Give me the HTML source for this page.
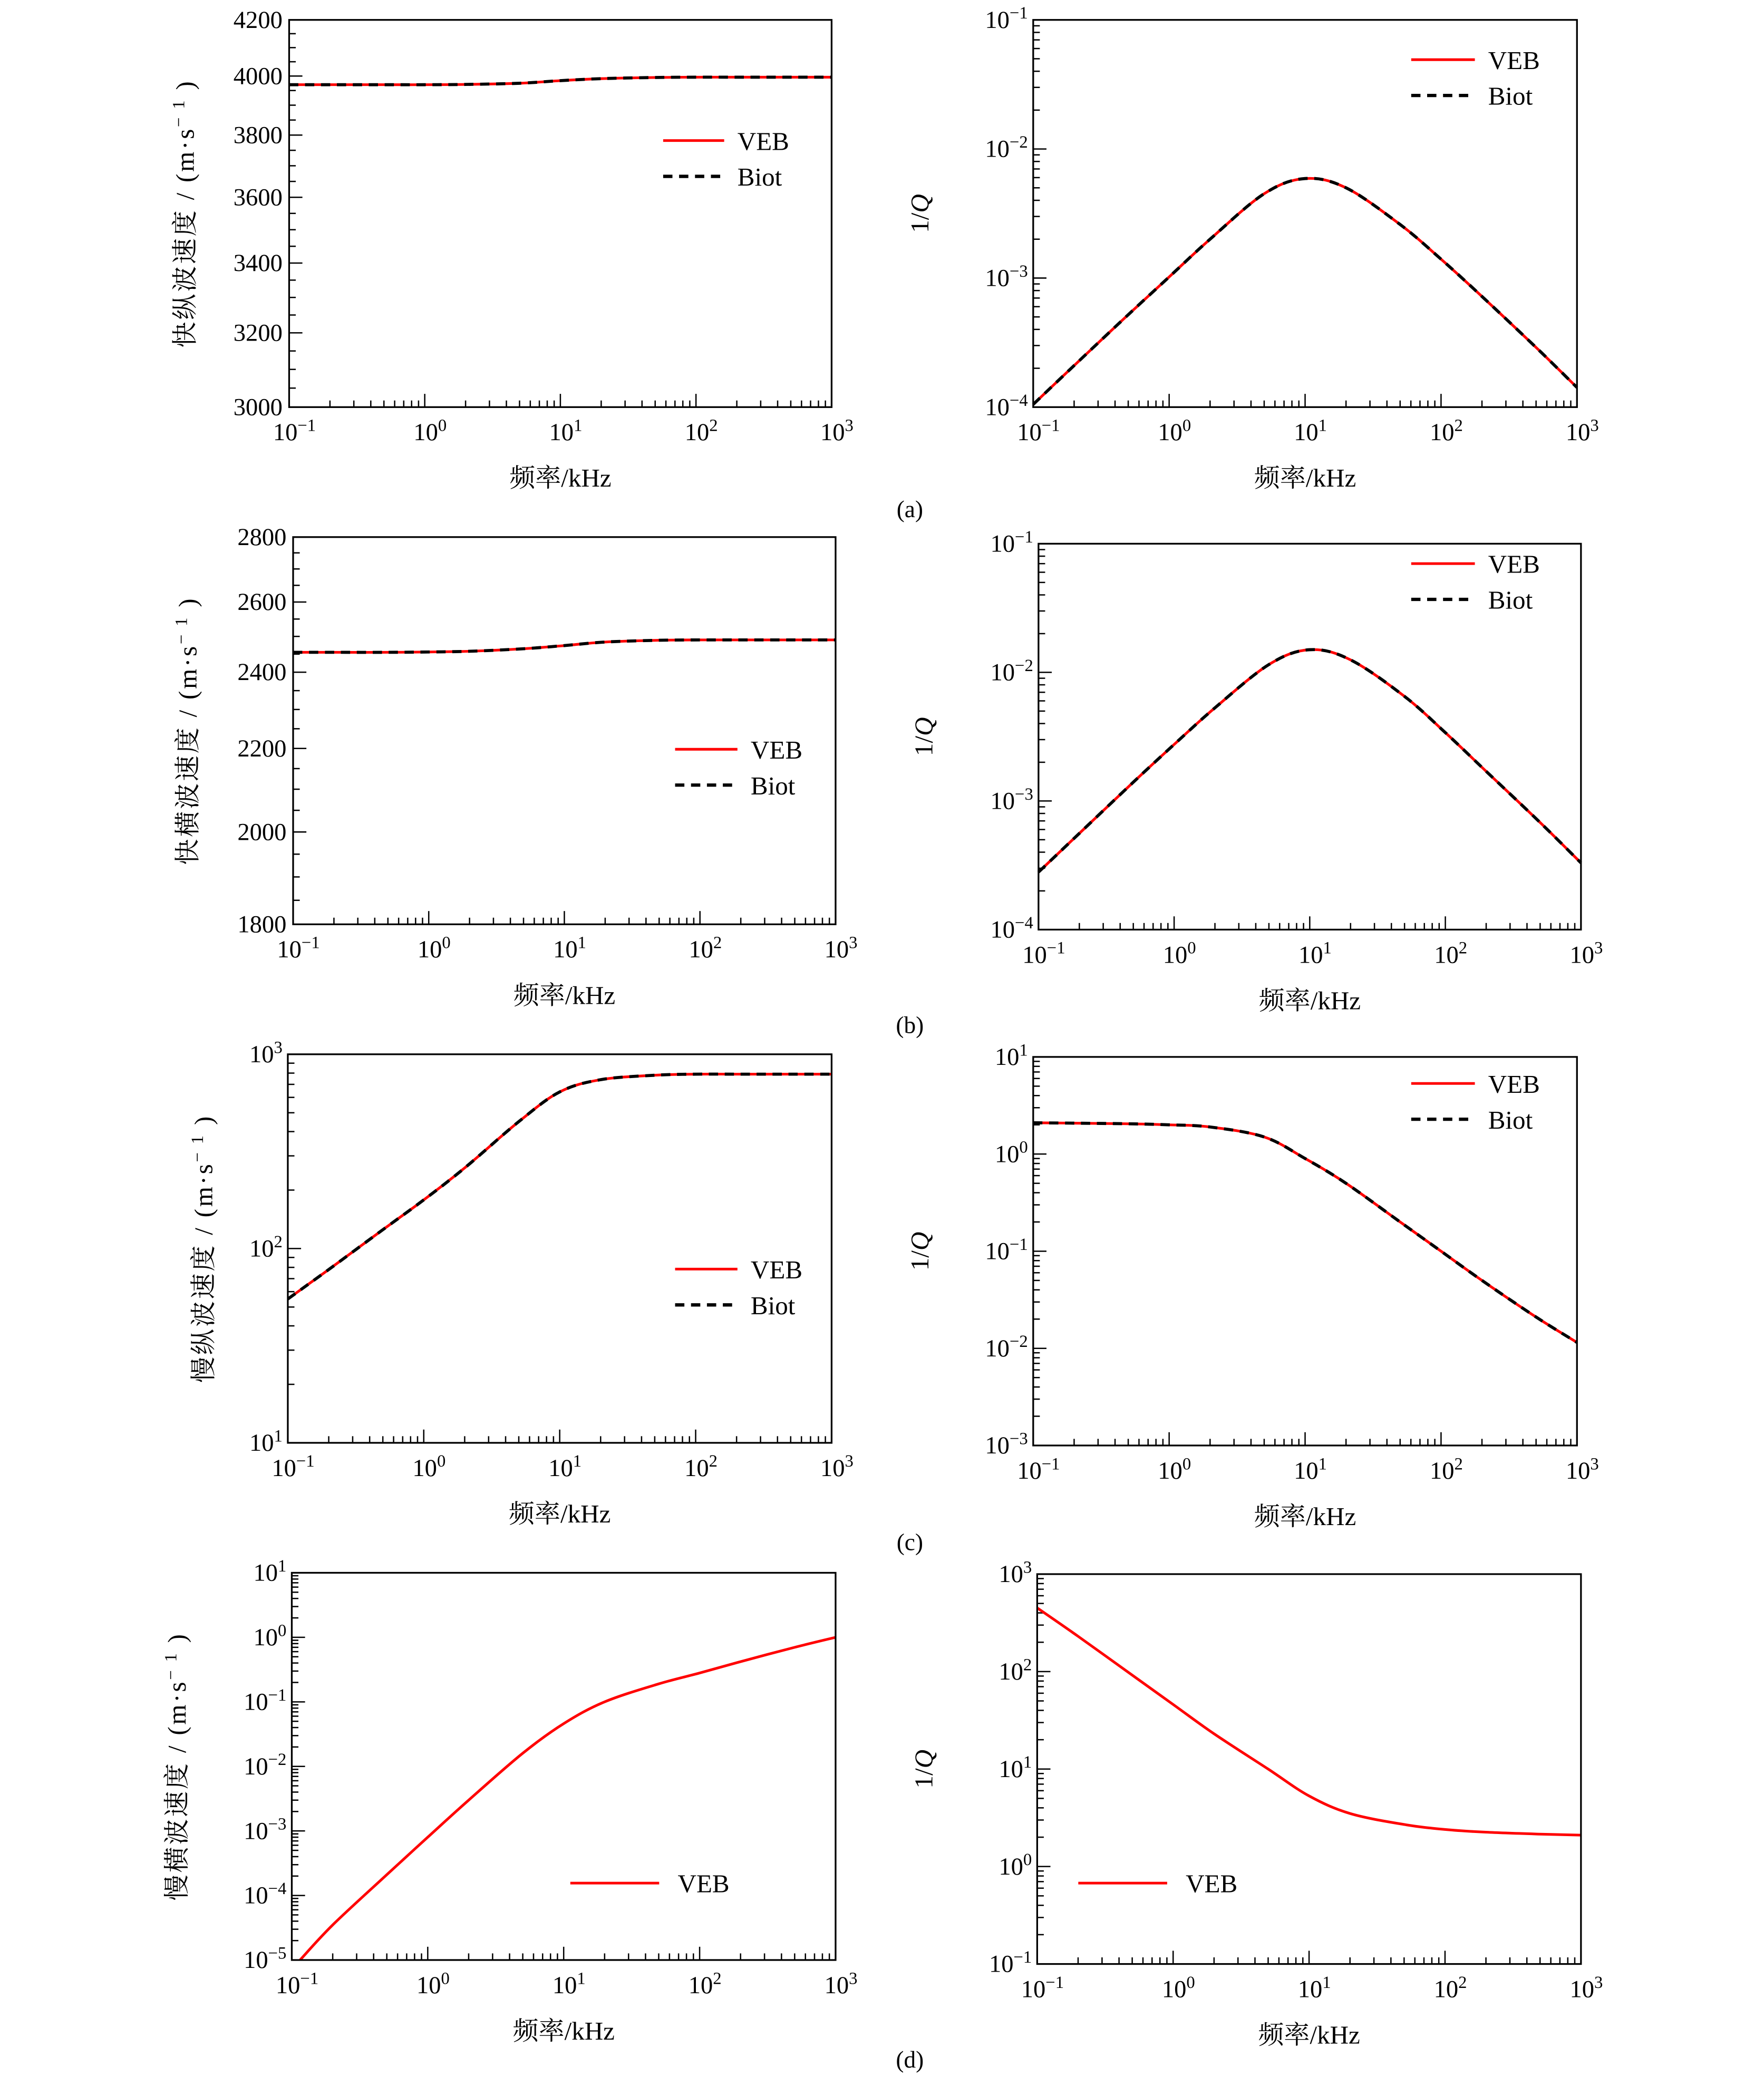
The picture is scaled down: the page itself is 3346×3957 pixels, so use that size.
<!DOCTYPE html>
<html><head><meta charset="utf-8"><style>
html,body{margin:0;padding:0;background:#fff}
svg{display:block}
text{font-family:"Liberation Serif","Noto Serif CJK SC",serif;fill:#000}
</style></head><body>
<svg id="fig" xmlns="http://www.w3.org/2000/svg" width="3346" height="3957" viewBox="0 0 1330 1573" preserveAspectRatio="none"></svg>
<script>
// shared x data (kHz)
const freqs = [0.1,0.2,0.5,1,2,5,10,20,50,100,200,500,1000];
// (a) fast P velocity
const aVel = [3970,3970,3970,3970,3971,3975,3984,3991,3995,3996,3996,3996,3996];
// (a) 1/Q
const aQ = [1.05e-4,2.1e-4,5.2e-4,1.02e-3,2.0e-3,4.5e-3,5.9e-3,5.0e-3,2.6e-3,1.4e-3,7.2e-4,2.9e-4,1.42e-4];
// (b) fast S velocity
const bVel = [2455,2455,2455,2456,2458,2465,2474,2484,2489,2490,2490,2490,2490];
// (b) 1/Q
const bQ = [2.8e-4,5.6e-4,1.4e-3,2.75e-3,5.3e-3,1.15e-2,1.5e-2,1.25e-2,6.5e-3,3.4e-3,1.7e-3,6.8e-4,3.3e-4];
// (c) slow P velocity
const cVel = [55,78,125,178,260,450,640,740,780,790,790,790,790];
// (c) 1/Q
const cQ = [2.1,2.08,2.05,2.0,1.9,1.5,0.9,0.5,0.2,0.1,0.05,0.021,0.0115];
// (d) slow S velocity
const dFreq = [0.115,0.2,0.5,1,2,5,10,20,50,100,200,500,1000];
const dVel = [1e-5,3.5e-5,2.1e-4,8e-4,3e-3,1.6e-2,4.6e-2,1.0e-1,1.9e-1,2.8e-1,4.2e-1,0.7,1.0];
// (d) 1/Q
const dQ = [450,230,92,46,23,10,5.3,3.5,2.7,2.4,2.25,2.15,2.1];
const linTicksA = [3000,3200,3400,3600,3800,4000,4200];
const linTicksB = [1800,2000,2200,2400,2600,2800];
const xTickExps = [-1,0,1,2,3];

const svg = document.getElementById('fig');
const NS = 'http://www.w3.org/2000/svg';
function mk(tag, attrs, parent){const e=document.createElementNS(NS,tag);for(const k in attrs)e.setAttribute(k,attrs[k]);(parent||svg).appendChild(e);return e;}
function powLabel(g,x,y,exp,anchor){
  const t=mk('text',{x:x,y:y,'font-size':18.5,'text-anchor':anchor},g);
  t.textContent='10';
  const s=mk('tspan',{'font-size':13,dy:-7},t);
  s.textContent=exp<0?('\u2212'+(-exp)):String(exp);
  return t;
}
function smoothPath(pts){
  let d='M'+pts[0][0].toFixed(2)+','+pts[0][1].toFixed(2);
  for(let i=0;i<pts.length-1;i++){
    const p0=pts[Math.max(0,i-1)],p1=pts[i],p2=pts[i+1],p3=pts[Math.min(pts.length-1,i+2)];
    const c1=[p1[0]+(p2[0]-p0[0])/6,p1[1]+(p2[1]-p0[1])/6];
    const c2=[p2[0]-(p3[0]-p1[0])/6,p2[1]-(p3[1]-p1[1])/6];
    d+=' C'+c1[0].toFixed(2)+','+c1[1].toFixed(2)+' '+c2[0].toFixed(2)+','+c2[1].toFixed(2)+' '+p2[0].toFixed(2)+','+p2[1].toFixed(2);
  }
  return d;
}
function panel(o){
  const g=mk('g',{});
  
  
  const L=o.x0,R=o.x1,T=o.y0,B=o.y1;
  const xs=v=>L+(Math.log10(v)+1)/4*(R-L);
  const lmin=Math.log10(o.ymin),lmax=Math.log10(o.ymax);
  const ys=v=>B-(Math.log10(v)-lmin)/(lmax-lmin)*(B-T);
  for(let e=-1;e<3;e++){for(let m=1;m<10;m++){const v=m*Math.pow(10,e);const x=xs(v);
    mk('line',{x1:x,x2:x,y1:B,y2:B-(m===1?10:5),stroke:'#000','stroke-width':1},g);}}
  mk('line',{x1:R,x2:R,y1:B,y2:B-10,stroke:'#000','stroke-width':1},g);
  xTickExps.forEach(e=>{const t=powLabel(g,xs(Math.pow(10,e))+4,B+25,e,'middle');
    });
  if(o.linTicks){
    for(let v=o.ymin;v<=o.ymax+1e-6;v+=50){const y=ys(v);mk('line',{x1:L,x2:L+(v%200===0?10:5),y1:y,y2:y,stroke:'#000','stroke-width':1},g);}
    o.linTicks.forEach(v=>{const t=mk('text',{x:L-5,y:ys(v)+6,'font-size':18.5,'text-anchor':'end'},g);t.textContent=v;
      });
  } else {
    for(let e=Math.round(lmin);e<Math.round(lmax);e++){for(let m=1;m<10;m++){const y=ys(m*Math.pow(10,e));
      mk('line',{x1:L,x2:L+(m===1?10:5),y1:y,y2:y,stroke:'#000','stroke-width':1},g);}}
    for(let e=Math.round(lmin);e<=Math.round(lmax);e++){const t=powLabel(g,L-4,ys(Math.pow(10,e))+6,e,'end');
      }
  }
  const fx=o.fx||freqs;
  const pts=fx.map((f,i)=>[xs(f),ys(o.data[i])]);
  const r=mk('path',{d:smoothPath(pts),fill:'none',stroke:'#f00','stroke-width':2},g);
  
  if(o.biot){const b=mk('path',{d:smoothPath(pts),fill:'none',stroke:'#000','stroke-width':2.3,'stroke-dasharray':'7,5'},g);
    }
  const fr=mk('rect',{x:L,y:T,width:R-L,height:B-T,fill:'none',stroke:'#000','stroke-width':1.3},g);
  
  const xt=mk('text',{x:(L+R)/2,y:B+60,'font-size':19.5,'text-anchor':'middle'},g);
  xt.textContent='频率/kHz';
  
  const cy=(T+B)/2;
  const yt=mk('text',{x:o.ytx,y:cy,'font-size':19.5,'text-anchor':'middle','letter-spacing':o.ytitle?1.5:0,transform:'rotate(-90 '+o.ytx+' '+cy+')'},g);
  if(o.ytitle){yt.textContent=o.ytitle+' / (m·s';const s=mk('tspan',{'font-size':13,dy:-7},yt);s.textContent='\u2212 1';const s2=mk('tspan',{dy:7},yt);s2.textContent=' )';}
  else {yt.textContent='1/';const q=mk('tspan',{'font-style':'italic'},yt);q.textContent='Q';}
  
  const lg=mk('g',{},g);
  
  const lx=o.leg[0],ly=o.leg[1],lw=o.leg[2];
  mk('line',{x1:lx,x2:lx+lw,y1:ly,y2:ly,stroke:'#f00','stroke-width':2},lg);
  const t1=mk('text',{x:lx+lw+(o.biot?10:14),y:ly+7,'font-size':19.5},lg);t1.textContent='VEB';
  if(o.biot){mk('line',{x1:lx,x2:lx+lw,y1:ly+27,y2:ly+27,stroke:'#000','stroke-width':2.5,'stroke-dasharray':'7,5'},lg);
    const t2=mk('text',{x:lx+lw+10,y:ly+34,'font-size':19.5},lg);t2.textContent='Biot';}
}
panel({name:'panel-a-velocity',x0:218,x1:627,y0:15,y1:307,ymin:3000,ymax:4200,linTicks:linTicksA,data:aVel,biot:true,ytx:146,ytitle:'快纵波速度',leg:[500,106,46]});
panel({name:'panel-a-attenuation',x0:779,x1:1189,y0:15,y1:307,ymin:1e-4,ymax:1e-1,data:aQ,biot:true,ytx:700,leg:[1064,45,48]});
panel({name:'panel-b-velocity',x0:221,x1:630,y0:405,y1:697,ymin:1800,ymax:2800,linTicks:linTicksB,data:bVel,biot:true,ytx:148,ytitle:'快横波速度',leg:[509,565,47]});
panel({name:'panel-b-attenuation',x0:783,x1:1192,y0:410,y1:701,ymin:1e-4,ymax:1e-1,data:bQ,biot:true,ytx:703,leg:[1064,425,48]});
panel({name:'panel-c-velocity',x0:217,x1:627,y0:795,y1:1088,ymin:10,ymax:1000,data:cVel,biot:true,ytx:160,ytitle:'慢纵波速度',leg:[509,957,47]});
panel({name:'panel-c-attenuation',x0:779,x1:1189,y0:797,y1:1090,ymin:1e-3,ymax:10,data:cQ,biot:true,ytx:700,leg:[1064,817,48]});
panel({name:'panel-d-velocity',x0:220,x1:630,y0:1186,y1:1478,ymin:1e-5,ymax:10,data:dVel,fx:dFreq,biot:false,ytx:140,ytitle:'慢横波速度',leg:[430,1420,67]});
panel({name:'panel-d-attenuation',x0:782,x1:1192,y0:1187,y1:1481,ymin:0.1,ymax:1000,data:dQ,biot:false,ytx:703,leg:[813,1420,67]});
[['(a)',390],['(b)',779],['(c)',1169],['(d)',1559]].forEach(c=>{
  const t=mk('text',{x:686,y:c[1],'font-size':18,'text-anchor':'middle'});t.textContent=c[0];
  
  
});
</script>
</body></html>
